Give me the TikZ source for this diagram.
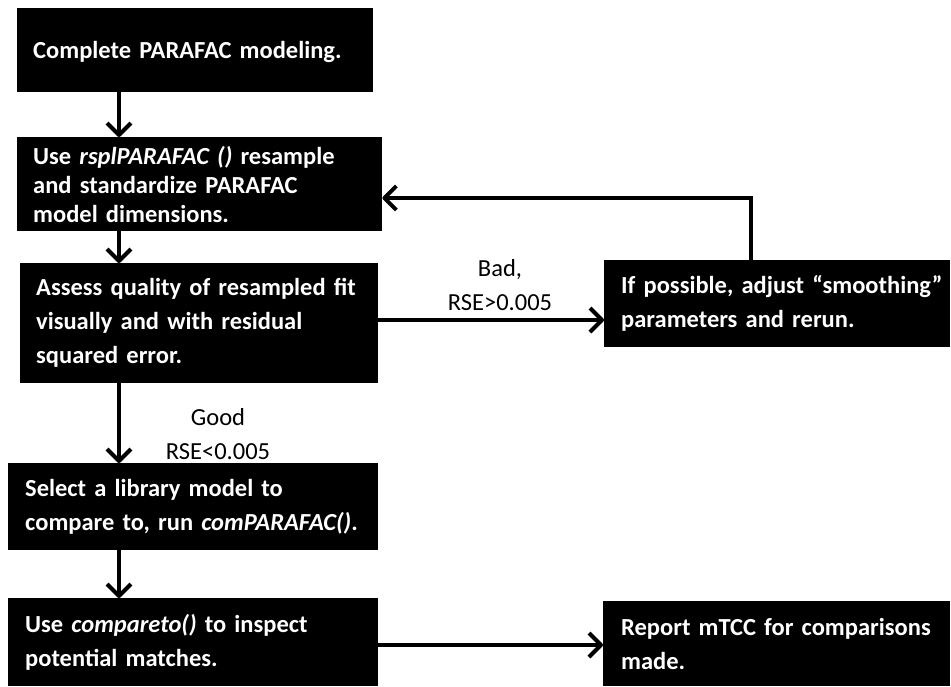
\documentclass[tikz,border=0pt]{standalone}
\usepackage{fontspec}
\setmainfont{Carlito}[WordSpace=0.9]
\usetikzlibrary{arrows.meta}
\begin{document}
\begin{tikzpicture}[x=1pt,y=-1pt,
  box/.style={fill=black,text=white,anchor=north west,inner xsep=16pt,inner ysep=0pt,
    align=left,font=\fontsize{24.5}{34}\selectfont\bfseries},
  conn/.style={line width=4pt,-{Straight Barb[length=12pt,width=24pt,line join=round]}},
  lbl/.style={align=center,font=\fontsize{24.5}{34}\selectfont}]
\useasboundingbox (0,0) rectangle (951,686);
\node[box,minimum width=356pt,minimum height=84pt,text width=324pt,text depth=-10pt] (b1) at (17,8) {\mbox{Complete PARAFAC modeling.}};
\node[box,minimum width=365pt,minimum height=94pt,text width=333pt,font=\fontsize{24.5}{29}\selectfont\bfseries] (b2) at (17,137) {\mbox{Use \textit{rsplPARAFAC ()} resample}\\\mbox{and standardize PARAFAC}\\\mbox{model dimensions.}};
\node[box,minimum width=358pt,minimum height=120pt,text width=326pt] (b3) at (20,263) {\mbox{Assess quality of resampled fit}\\\mbox{visually and with residual}\\\mbox{squared error.}};
\node[box,minimum width=346pt,minimum height=87pt,text width=312pt,inner xsep=17pt] (b4) at (604,260) {\mbox{If possible, adjust “smoothing”}\\\mbox{parameters and rerun.}};
\node[box,minimum width=368pt,minimum height=87pt,text width=336pt,inner xsep=17pt] (b5) at (8,463) {\mbox{Select a library model to}\\\mbox{compare to, run \textit{comPARAFAC()}.}};
\node[box,minimum width=368pt,minimum height=88pt,text width=336pt,inner xsep=17pt] (b6) at (8,598) {\mbox{Use \textit{compareto()} to inspect}\\\mbox{potential matches.}};
\node[box,minimum width=347pt,minimum height=85pt,text width=311pt,inner xsep=18pt] (b7) at (603,601) {\mbox{Report mTCC for comparisons}\\\mbox{made.}};
\coordinate (col) at (119,0);
\coordinate (badrow) at (0,320);
\coordinate (looprow) at (0,198);
\coordinate (loopcol) at (751,0);
\coordinate (endrow) at (0,645);
\draw[conn] (b1.south -| col) -- (b2.north -| col);
\draw[conn] (b2.south -| col) -- (b3.north -| col);
\draw[conn] (b3.south -| col) -- (b5.north -| col);
\draw[conn] (b5.south -| col) -- (b6.north -| col);
\draw[conn] (b3.east |- badrow) -- (b4.west |- badrow);
\draw[conn,line join=miter] (b4.north -| loopcol) -- (looprow -| loopcol) -- (b2.east |- looprow);
\draw[conn] (b6.east |- endrow) -- (b7.west |- endrow);
\node[lbl] (bad) at (500,285) {Bad,\\RSE>0.005};
\node[lbl] (good) at (218,434) {Good\\RSE<0.005};
\end{tikzpicture}
\end{document}
